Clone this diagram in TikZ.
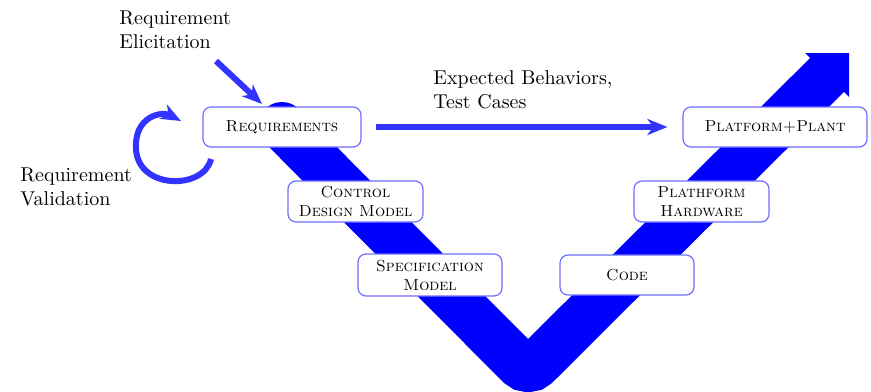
\documentclass[tikz,border=0pt]{standalone}
\usetikzlibrary{arrows.meta}
\definecolor{vblue}{RGB}{0,0,255}
\definecolor{arrowblue}{RGB}{51,51,255}
\definecolor{boxblue}{RGB}{110,110,255}
\begin{document}
\begin{tikzpicture}[x=0.5pt,y=-0.5pt,
  stage/.style={draw=boxblue, line width=0.6pt, fill=white, rounded corners=4pt,
    font=\footnotesize\scshape, align=center, inner sep=2pt},
  flow/.style={draw=arrowblue, line width=3pt,
    -{Stealth[length=10pt,width=8pt,inset=3pt]}},
  note/.style={align=left, inner sep=0pt, anchor=north west}]
\useasboundingbox (0,0) rectangle (871,391);

% the V of the development process: thick band with a round start,
% a rounded bend at the bottom and a right-angled head
\coordinate (vstart) at (282,126);
\coordinate (vbottom) at (528,373);
\coordinate (vhead) at (831,71);
\coordinate (vtip) at (849,53);
\coordinate (vbarbl) at (805,53);
\coordinate (vbarbr) at (849,97);
\fill[vblue] (vstart) circle[radius=12pt];
\draw[vblue, line width=24pt, rounded corners=6pt, line cap=butt]
  (vstart) -- (vbottom) -- (vhead);
\fill[vblue] (vtip) -- (vbarbl) -- (vbarbr) -- cycle;

% stages along the V
\node[stage, minimum width=79pt, minimum height=20pt] (req) at (282,127) {Requirements};
\node[stage, minimum width=67.5pt, minimum height=20.5pt] (ctrl) at (355.5,201.5) {Control\\Design Model};
\node[stage, minimum width=72pt, minimum height=21pt] (spec) at (430,275) {Specification\\Model};
\node[stage, minimum width=67pt, minimum height=20pt] (code) at (627,275) {Code};
\node[stage, minimum width=67.5pt, minimum height=20.5pt] (hw) at (701.5,201.5) {Plathform\\Hardware};
\node[stage, minimum width=92pt, minimum height=20pt] (plant) at (775,127) {Platform+Plant};

% annotations
\node[note] (elic) at (119,10) {Requirement\\Elicitation};
\node[note] (valid) at (20,167) {Requirement\\Validation};
\node[note] (expect) at (433,70) {Expected Behaviors,\\Test Cases};

\coordinate (elicstart) at (216,61);
\coordinate (elicend) at (262,104);
\draw[flow] (elicstart) -- (elicend);

\draw[flow, shorten <=7pt, shorten >=7.5pt] (req) -- (plant);

\coordinate (loopstart) at (211,159);
\coordinate (loopleft) at (136,149);
\coordinate (loopend) at (181,121);
\draw[flow] (loopstart) .. controls (204,190) and (138,190) .. (loopleft)
  .. controls (134,116) and (162,111) .. (loopend);
\end{tikzpicture}
\end{document}
